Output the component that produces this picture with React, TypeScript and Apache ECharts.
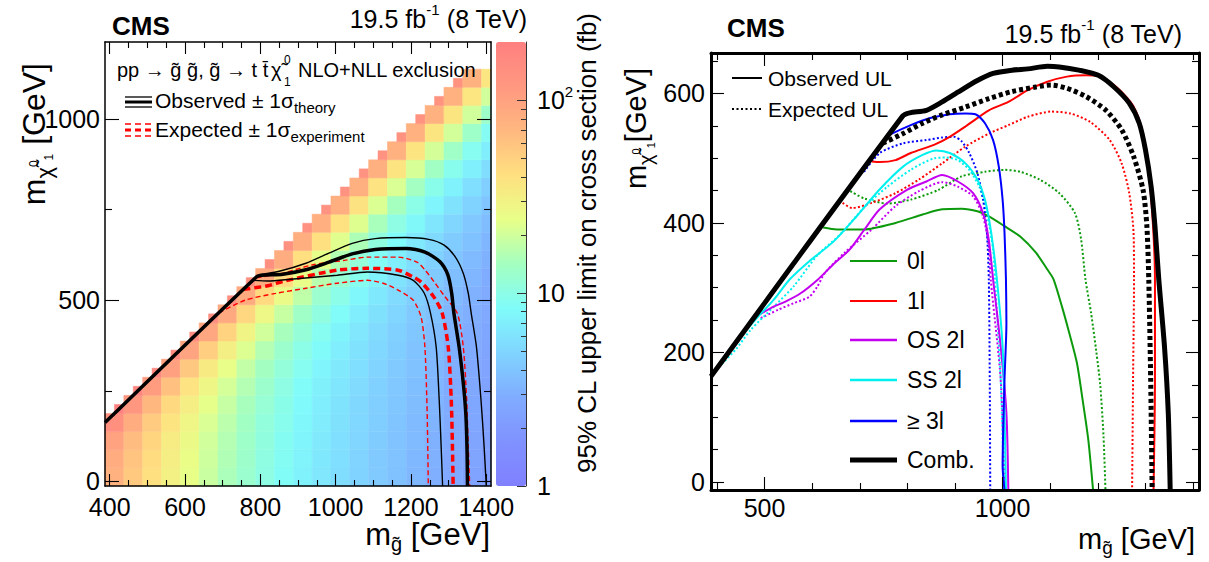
import React, { useEffect, useRef } from "react";
import * as echarts from "echarts";

const FONT = '"Liberation Sans", Arial, Helvetica, sans-serif';

// ---------------- Left panel: cross-section upper limit cells (fb) ----------------
const cellRowY = [12.5, 62.5, 112.5, 162.5, 212.5, 262.5, 312.5, 362.5, 412.5, 462.5, 512.5, 562.5, 612.5, 662.5, 712.5, 762.5, 812.5, 862.5, 912.5, 962.5, 1012.5, 1062.5, 1112.5];
const cellRowStartX = [412.5, 412.5, 412.5, 412.5, 412.5, 462.5, 512.5, 562.5, 612.5, 662.5, 712.5, 762.5, 812.5, 862.5, 912.5, 962.5, 1012.5, 1062.5, 1112.5, 1162.5, 1212.5, 1262.5, 1312.5];
const ulRows: number[][] = [
  [76, 55, 41, 31, 24, 19, 15, 12.4, 10.2, 8.6, 7.3, 6.3, 5.5, 4.8, 4.3, 3.8, 3.4, 3.0, 2.7, 2.4, 2.2],
  [83, 59, 43, 32, 25, 19.5, 15.6, 12.7, 10.4, 8.8, 7.4, 6.4, 5.6, 4.9, 4.3, 3.9, 3.4, 3.1, 2.7, 2.5, 2.2],
  [100, 66, 47, 34, 26, 20, 16, 13, 10.7, 9.0, 7.6, 6.5, 5.7, 5.0, 4.4, 3.9, 3.5, 3.1, 2.8, 2.5, 2.3],
  [140, 83, 54, 38, 28, 21.5, 17, 13.7, 11, 9.3, 7.8, 6.7, 5.8, 5.1, 4.5, 4.0, 3.5, 3.2, 2.8, 2.6, 2.3],
  [195, 123, 71, 45, 32, 23.5, 18.5, 14.6, 11.7, 9.7, 8.1, 6.9, 6.0, 5.2, 4.6, 4.1, 3.6, 3.2, 2.9, 2.6, 2.4],
  [178, 111, 62, 39, 27.5, 20.5, 16, 12.6, 10.3, 8.5, 7.2, 6.2, 5.4, 4.7, 4.2, 3.7, 3.3, 2.9, 2.65, 2.4],
  [166, 102, 56, 34.5, 24.5, 18, 14, 11.2, 9.1, 7.6, 6.5, 5.6, 4.9, 4.3, 3.8, 3.4, 3.0, 2.7, 2.45],
  [157, 96, 51.5, 31.5, 22, 16, 12.6, 10, 8.2, 6.9, 5.9, 5.1, 4.5, 3.9, 3.5, 3.1, 2.8, 2.5],
  [151, 91.5, 48.5, 29, 20, 14.6, 11.4, 9.1, 7.5, 6.3, 5.4, 4.7, 4.1, 3.6, 3.2, 2.9, 2.6],
  [146, 88.5, 46, 27, 18.6, 13.4, 10.5, 8.4, 6.9, 5.8, 5.0, 4.3, 3.8, 3.3, 3.0, 2.7],
  [143, 86, 44, 25.6, 17.4, 12.5, 9.8, 7.8, 6.4, 5.4, 4.6, 4.0, 3.5, 3.1, 2.8],
  [141, 84, 42.6, 24.4, 16.5, 11.8, 9.2, 7.3, 6.0, 5.0, 4.3, 3.7, 3.3, 2.9],
  [139, 82.6, 41.4, 23.5, 15.8, 11.2, 8.7, 6.9, 5.6, 4.7, 4.0, 3.5, 3.1],
  [137, 81.4, 40.5, 22.8, 15.2, 10.7, 8.3, 6.5, 5.3, 4.4, 3.8, 3.3],
  [136, 80.5, 39.8, 22.2, 14.7, 10.3, 7.9, 6.2, 5.0, 4.2, 3.6],
  [135, 79.8, 39.2, 21.7, 14.3, 9.9, 7.6, 5.9, 4.8, 4.0],
  [134, 79.2, 38.7, 21.3, 13.9, 9.6, 7.3, 5.7, 4.6],
  [134, 78.7, 38.3, 20.9, 13.6, 9.3, 7.1, 5.5],
  [133, 78.3, 37.9, 20.6, 13.3, 9.1, 6.9],
  [133, 77.9, 37.6, 20.3, 13.1, 8.9],
  [132, 77.6, 37.3, 20.1, 12.9],
  [132, 77.3, 37.1, 19.9],
  [132, 77.1, 36.9],
];

// Left panel contours [m_gluino, m_LSP]
const obsLeft = [[387.5, 162.5], [790, 565], [805, 569], [860, 572], [921, 584], [982, 605], [1044, 628], [1105, 640], [1187, 643], [1237, 633], [1277, 606], [1298, 570], [1308, 520], [1314, 464], [1328, 370], [1340, 260], [1346, 180], [1349, 80], [1350, -12.5]];
const obsUpLeft = [[795, 570], [850, 580], [921, 602], [982, 630], [1044, 657], [1105, 670], [1187, 673], [1247, 668], [1288, 652], [1318, 619], [1339, 574], [1352, 520], [1360, 464], [1374, 370], [1386, 224], [1394, 100], [1400, -12.5]];
const obsDownLeft = [[780, 555], [820, 553], [881, 558], [1004, 569], [1084, 578], [1166, 569], [1206, 555], [1235, 520], [1252, 464], [1267, 370], [1275, 224], [1280, 100], [1284, -12.5]];
const expLeft = [[755, 530], [820, 540], [860, 552], [1004, 583], [1084, 588], [1166, 583], [1206, 564], [1227, 550], [1260, 510], [1283, 464], [1299, 370], [1307, 224], [1310, 100], [1312, -12.5]];
const expUpLeft = [[790, 562], [860, 575], [940, 598], [1023, 610], [1084, 619], [1166, 619], [1216, 605], [1240, 580], [1262, 550], [1290, 510], [1323, 464], [1339, 370], [1348, 224], [1352, 100], [1356, -12.5]];
const expDownLeft = [[690, 465], [759, 500], [841, 519], [921, 533], [1004, 547], [1084, 555], [1126, 547], [1166, 528], [1206, 500], [1227, 453], [1237, 370], [1243, 188], [1246, -12.5]];

// ---------------- Right panel curves ----------------
const zeroLObs = [[623, 393], [652, 390], [709, 390], [775, 400], [832, 413], [873, 421], [914, 422], [947, 418], [971, 410], [1004, 395], [1037, 379], [1070, 354], [1094, 328], [1107, 313], [1125, 270], [1140, 230], [1156, 184], [1168, 127], [1180, 65], [1190, -12.5]];
const zeroLExp = [[680, 449], [709, 438], [758, 430], [807, 436], [865, 451], [914, 472], [963, 479], [1004, 482], [1037, 479], [1078, 467], [1119, 446], [1152, 415], [1165, 374], [1174, 313], [1186, 260], [1197, 200], [1205, 150], [1212, 70], [1216, -12.5]];
const oneLObs = [[725, 495], [742, 494], [775, 497], [807, 508], [857, 521], [889, 533], [922, 549], [971, 574], [1012, 587], [1053, 605], [1094, 618], [1135, 626], [1176, 628], [1201, 627], [1242, 608], [1275, 580], [1295, 538], [1307, 477], [1316, 395], [1320, 313], [1320, 158], [1317, -12.5]];
const oneLExp = [[664, 431], [684, 423], [725, 431], [775, 446], [824, 467], [873, 492], [922, 518], [971, 538], [1012, 551], [1053, 564], [1102, 572], [1143, 569], [1184, 556], [1225, 528], [1250, 492], [1266, 446], [1275, 385], [1276, 313], [1274, 158], [1272, -12.5]];
const os2lObs = [[488, 258], [520, 271], [545, 279], [575, 291], [611, 312], [643, 335], [680, 360], [710, 390], [742, 421], [799, 451], [840, 464], [873, 474], [906, 464], [938, 446], [959, 415], [971, 374], [980, 313], [996, 209], [1008, 106], [1012, -12.5]];
const os2lExp = [[492, 253], [529, 266], [561, 276], [594, 286], [611, 302], [627, 323], [668, 354], [725, 390], [775, 426], [824, 449], [873, 463], [906, 456], [938, 441], [959, 410], [971, 364], [975, 313], [996, 158], [1004, -12.5]];
const ss2lObs = [[406, 180], [440, 215], [480, 250], [520, 282], [553, 313], [594, 341], [643, 370], [693, 410], [742, 452], [791, 487], [832, 505], [861, 512], [889, 508], [922, 492], [947, 467], [963, 436], [976, 385], [988, 313], [1000, 209], [1004, 106], [1007, -12.5]];
const ss2lExp = [[398, 173], [440, 205], [471, 235], [520, 271], [561, 302], [611, 350], [660, 383], [709, 424], [758, 456], [807, 482], [857, 500], [881, 501], [906, 497], [930, 482], [951, 456], [967, 415], [980, 359], [984, 313], [996, 158], [1003, -12.5]];
const threeLObs = [[762, 536], [807, 551], [848, 562], [889, 568], [922, 569], [943, 568], [963, 554], [980, 528], [992, 487], [1000, 436], [1004, 385], [1007, 313], [1008, 245], [1004, 158], [1000, 24], [1004, -12.5]];
const threeLExp = [[709, 479], [742, 508], [791, 523], [840, 528], [873, 532], [898, 533], [914, 526], [930, 508], [947, 477], [959, 436], [967, 385], [971, 313], [973, 158], [974, -12.5]];
const combObs = [[387.5, 163], [790, 565], [805, 570], [840, 574], [873, 587], [906, 602], [947, 620], [980, 631], [1020, 636], [1053, 638], [1094, 642], [1119, 641], [1160, 636], [1201, 628], [1234, 610], [1266, 585], [1287, 554], [1300, 513], [1312, 456], [1320, 395], [1328, 313], [1340, 209], [1348, 106], [1352, -12.5]];
const combExp = [[748, 523], [791, 538], [832, 554], [873, 567], [922, 579], [971, 592], [1020, 603], [1070, 610], [1102, 613], [1135, 608], [1176, 595], [1217, 574], [1250, 544], [1275, 503], [1295, 451], [1303, 395], [1307, 313], [1311, 158], [1314, -12.5]];

// ticks
const leftXMajor = [400, 600, 800, 1000, 1200, 1400];
const leftXMinor = [450, 500, 550, 650, 700, 750, 850, 900, 950, 1050, 1100, 1150, 1250, 1300, 1350];
const leftYMajor = [0, 500, 1000];
const leftYMinor = [250, 750];
const rightXMajor = [500, 1000];
const rightXMinor = [400, 600, 700, 800, 900, 1100, 1200, 1300, 1400];
const rightYMajor = [0, 200, 400, 600];
const rightYMinor = [50, 100, 150, 250, 300, 350, 450, 500, 550, 650];
const cbarMajor = [1, 10, 100];
const cbarMinor = [2, 3, 4, 5, 6, 7, 8, 9, 20, 30, 40, 50, 60, 70, 80, 90];
const cbarMax = 200;

const PALETTE = ["#8080ff", "#8092ff", "#80acff", "#80d4ff", "#80fcfa", "#a4ffc0", "#e8ff88", "#ffe080", "#ffb880", "#ff9880", "#ff8080"];

const L_X = [387.5, 1412.5];
const L_Y = [-12.5, 1212.5];
const R_X = [387.5, 1412.5];
const R_Y = [-12.5, 662.5];

function axesFor(dim: "x" | "y", gridIndex: number, ext: number[], major: number[], minor: number[], o: any) {
  const posA = dim === "x" ? "bottom" : "left";
  const posB = dim === "x" ? "top" : "right";
  const base = { gridIndex, type: "value", min: ext[0], max: ext[1], splitLine: { show: false }, z: 10 };
  const line = { show: true, onZero: false, lineStyle: { color: "#000", width: o.lineWidth } };
  const noLine = { show: false, onZero: false };
  const ts = { color: "#000", width: 1.1 };
  const label: any = { show: true, customValues: major, margin: o.margin, fontSize: 25, fontFamily: FONT, color: "#000", formatter: (v: number) => String(Math.round(v)) };
  return [
    { ...base, position: posA, axisLine: line, axisTick: { show: true, inside: true, length: o.majorLen, customValues: major, lineStyle: ts }, axisLabel: label },
    { ...base, position: posA, axisLine: noLine, axisTick: { show: true, inside: true, length: o.minorLen, customValues: minor, lineStyle: ts }, axisLabel: { show: false } },
    { ...base, position: posB, axisLine: line, axisTick: { show: true, inside: true, length: o.majorLen, customValues: major, lineStyle: ts }, axisLabel: { show: false } },
    { ...base, position: posB, axisLine: noLine, axisTick: { show: true, inside: true, length: o.minorLen, customValues: minor, lineStyle: ts }, axisLabel: { show: false } },
  ];
}

function txt(x: number, y: number, text: string, fontSize: number, extra: any = {}) {
  const { rotation, ...st } = extra;
  return {
    type: "text", x, y, rotation: rotation || 0, z: 100,
    style: { text, fontSize, fontFamily: FONT, fill: "#000", align: "left", verticalAlign: "middle", ...st },
  };
}
function seg(x1: number, y1: number, x2: number, y2: number, stroke: string, lineWidth: number, lineDash?: number[]) {
  return { type: "line", z: 100, shape: { x1, y1, x2, y2 }, style: { stroke, lineWidth, lineDash: lineDash || null } };
}

function lineSeries(data: number[][], color: string, width: number, xi: number, yi: number, dash?: any) {
  return {
    type: "line", xAxisIndex: xi, yAxisIndex: yi, data, showSymbol: false, symbol: "none", smooth: 0.25,
    lineStyle: { color, width, type: dash || "solid" }, z: 5, silent: true,
  };
}

export default function App() {
  const ref = useRef<HTMLDivElement>(null);
  useEffect(() => {
    if (!ref.current) return;
    const chart = echarts.init(ref.current, null, { renderer: "svg" });

    const heatData: number[][] = [];
    ulRows.forEach((row, i) => {
      row.forEach((v, k) => {
        heatData.push([cellRowStartX[i] + 50 * k, cellRowY[i], Math.log10(v), v]);
      });
    });

    const green = "#0c9a0c", red = "#ff0000", violet = "#c400f0", cyan = "#00f0f0", blue = "#0000ff";
    const dot = [2, 2.2];
    const RX = 8, RY = 6; // right grid main axis indices

    const option: any = {
      animation: false,
      backgroundColor: "#fff",
      grid: [
        { left: 105, top: 42, width: 386, height: 444 },
        { left: 496, top: 42, width: 30, height: 444 },
        { left: 711, top: 53, width: 488, height: 437 },
      ],
      xAxis: [
        ...axesFor("x", 0, L_X, leftXMajor, leftXMinor, { lineWidth: 1.5, majorLen: 12, minorLen: 6, margin: 8 }),
        { gridIndex: 1, type: "value", min: 0, max: 1, show: false },
        ...axesFor("x", 2, R_X, rightXMajor, rightXMinor, { lineWidth: 3, majorLen: 13, minorLen: 7, margin: 5 }),
      ],
      yAxis: [
        ...axesFor("y", 0, L_Y, leftYMajor, leftYMinor, { lineWidth: 1.5, majorLen: 14, minorLen: 7, margin: 5 }),
        {
          gridIndex: 1, type: "value", min: 0, max: Math.log10(cbarMax), position: "right", z: 10,
          splitLine: { show: false },
          axisLine: { show: true, onZero: false, lineStyle: { color: "#333", width: 1 } },
          axisTick: { show: true, inside: true, length: 9, customValues: cbarMajor.map((v) => Math.log10(v)), lineStyle: { color: "#333", width: 1 } },
          axisLabel: {
            show: true, customValues: cbarMajor.map((v) => Math.log10(v)), margin: 11, fontSize: 25, fontFamily: FONT, color: "#000",
            formatter: (v: number) => {
              const r = Math.round(v);
              if (r === 0) return "1";
              if (r === 1) return "10";
              return "{b|10}{s|" + r + "}";
            },
            rich: {
              b: { fontSize: 25, fontFamily: FONT, color: "#000", lineHeight: 32 },
              s: { fontSize: 15, fontFamily: FONT, color: "#000", lineHeight: 12, verticalAlign: "top" },
            },
          },
        },
        {
          gridIndex: 1, type: "value", min: 0, max: Math.log10(cbarMax), position: "right", z: 10,
          splitLine: { show: false }, axisLine: { show: false, onZero: false },
          axisTick: { show: true, inside: true, length: 5, customValues: cbarMinor.map((v) => Math.log10(v)), lineStyle: { color: "#333", width: 1 } },
          axisLabel: { show: false },
        },
        ...axesFor("y", 2, R_Y, rightYMajor, rightYMinor, { lineWidth: 3, majorLen: 13, minorLen: 7, margin: 6 }),
      ],
      visualMap: {
        type: "continuous", seriesIndex: 0, dimension: 2, min: 0, max: Math.log10(cbarMax),
        inRange: { color: PALETTE }, left: 496, top: 42, itemWidth: 30, itemHeight: 444, padding: 0,
        calculable: false, hoverLink: false, realtime: false, z: 4,
      },
      series: [
        {
          type: "custom", xAxisIndex: 0, yAxisIndex: 0, data: heatData, encode: { x: 0, y: 1 }, silent: true, z: 1,
          renderItem: (params: any, api: any) => {
            const x = api.value(0), y = api.value(1);
            let x0 = x - 25, x1 = x + 25, y0 = y - 25, y1 = y + 25;
            if (x - y < 225) { x0 = x; y1 = y; }
            x0 = Math.max(x0, L_X[0]); x1 = Math.min(x1, L_X[1]);
            y0 = Math.max(y0, L_Y[0]); y1 = Math.min(y1, L_Y[1]);
            const a = api.coord([x0, y1]);
            const b = api.coord([x1, y0]);
            const c = api.visual("color");
            return { type: "rect", shape: { x: a[0], y: a[1], width: b[0] - a[0], height: b[1] - a[1] }, style: { fill: c, stroke: c, lineWidth: 0.5 } };
          },
        },
        lineSeries(expDownLeft, red, 1.4, 0, 0, [5, 3]),
        lineSeries(expUpLeft, red, 1.4, 0, 0, [5, 3]),
        lineSeries(expLeft, red, 3.5, 0, 0, [7, 4]),
        lineSeries(obsDownLeft, "#000", 1.4, 0, 0),
        lineSeries(obsUpLeft, "#000", 1.4, 0, 0),
        lineSeries(obsLeft, "#000", 3.5, 0, 0),

        lineSeries(zeroLExp, green, 2, RX, RY, dot),
        lineSeries(oneLExp, red, 2, RX, RY, dot),
        lineSeries(os2lExp, violet, 2, RX, RY, dot),
        lineSeries(ss2lExp, cyan, 2, RX, RY, dot),
        lineSeries(threeLExp, blue, 2, RX, RY, dot),
        lineSeries(zeroLObs, green, 2, RX, RY),
        lineSeries(oneLObs, red, 2, RX, RY),
        lineSeries(os2lObs, violet, 2, RX, RY),
        lineSeries(ss2lObs, cyan, 2, RX, RY),
        lineSeries(threeLObs, blue, 2, RX, RY),
        lineSeries(combExp, "#000", 5, RX, RY, [4, 3]),
        lineSeries(combObs, "#000", 5, RX, RY),
      ],
      graphic: [
        // left header
        txt(112, 26, "CMS", 26, { fontWeight: "bold" }),
        txt(527, 19, "{a|19.5 fb}{s|-1}{a| (8 TeV)}", 25, {
          align: "right",
          rich: { a: { fontSize: 25, fontFamily: FONT, lineHeight: 34 }, s: { fontSize: 15, fontFamily: FONT, lineHeight: 12, verticalAlign: "top" } },
        }),
        // left legend
        txt(117, 70, "pp \u2192 g\u0303 g\u0303, g\u0303 \u2192 t t\u0304", 20),
        txt(271, 70, "\u03c7\u0303", 20),
        txt(284, 60, "0", 12),
        txt(284, 82, "1", 12),
        txt(298, 70, "NLO+NLL exclusion", 20),
        seg(125, 97, 152, 97, "#000", 1.3),
        seg(125, 102, 152, 102, "#000", 3),
        seg(125, 107, 152, 107, "#000", 1.3),
        txt(155, 100.7, "{a|Observed \u00b1 1\u03c3}{b|theory}", 21, {
          rich: { a: { fontSize: 21, fontFamily: FONT, lineHeight: 28 }, b: { fontSize: 15, fontFamily: FONT, lineHeight: 9, verticalAlign: "bottom" } },
        }),
        seg(125, 124, 152, 124, red, 1.3, [6, 4]),
        seg(125, 130, 152, 130, red, 3, [6, 4]),
        seg(125, 136, 152, 136, red, 1.3, [6, 4]),
        txt(155, 129.7, "{a|Expected \u00b1 1\u03c3}{b|experiment}", 21, {
          rich: { a: { fontSize: 21, fontFamily: FONT, lineHeight: 28 }, b: { fontSize: 15, fontFamily: FONT, lineHeight: 9, verticalAlign: "bottom" } },
        }),
        // left axis titles
        txt(490, 534.5, "{a|m}{b|g\u0303}{a| [GeV]}", 31, {
          align: "right",
          rich: { a: { fontSize: 31, fontFamily: FONT, lineHeight: 38 }, b: { fontSize: 20, fontFamily: FONT, lineHeight: 18, verticalAlign: "bottom" } },
        }),
        txt(34, 63, "{a|m}{b|\u03c7\u0303}{c|0}{d|1}{a| [GeV]}", 32, {
          align: "right", rotation: Math.PI / 2,
          rich: {
            a: { fontSize: 32, fontFamily: FONT, lineHeight: 42 },
            b: { fontSize: 22, fontFamily: FONT, lineHeight: 18, verticalAlign: "bottom" },
            c: { fontSize: 12, fontFamily: FONT, lineHeight: 12 },
            d: { fontSize: 12, fontFamily: FONT, lineHeight: 8, verticalAlign: "bottom" },
          },
        }),
        txt(587, 243, "95% CL upper limit on cross section (fb)", 26, { align: "center", rotation: Math.PI / 2 }),

        // right header
        txt(727, 28, "CMS", 26, { fontWeight: "bold" }),
        txt(1182, 34, "{a|19.5 fb}{s|-1}{a| (8 TeV)}", 25, {
          align: "right",
          rich: { a: { fontSize: 25, fontFamily: FONT, lineHeight: 34 }, s: { fontSize: 15, fontFamily: FONT, lineHeight: 12, verticalAlign: "top" } },
        }),
        // right top legend
        seg(732, 78, 762, 78, "#000", 2),
        txt(768, 78.7, "Observed UL", 21),
        seg(732, 109, 762, 109, "#000", 2, [2, 2.5]),
        txt(768, 109.7, "Expected UL", 21),
        // right bottom legend
        seg(850, 261, 897, 261, green, 2.2),
        txt(907, 261, "0l", 23),
        seg(850, 301, 897, 301, red, 2.2),
        txt(907, 301, "1l", 23),
        seg(850, 340, 897, 340, violet, 2.5),
        txt(907, 340, "OS 2l", 23),
        seg(850, 380, 897, 380, cyan, 2.5),
        txt(907, 380, "SS 2l", 23),
        seg(850, 421, 897, 421, blue, 2.5),
        txt(907, 421, "\u2265 3l", 23),
        seg(850, 460, 897, 460, "#000", 5),
        txt(907, 460, "Comb.", 23),
        // right axis titles
        txt(1195, 538.5, "{a|m}{b|g\u0303}{a| [GeV]}", 29, {
          align: "right",
          rich: { a: { fontSize: 29, fontFamily: FONT, lineHeight: 36 }, b: { fontSize: 19, fontFamily: FONT, lineHeight: 17, verticalAlign: "bottom" } },
        }),
        txt(636, 68, "{a|m}{b|\u03c7\u0303}{c|0}{d|1}{a|[GeV]}", 29, {
          align: "right", rotation: Math.PI / 2,
          rich: {
            a: { fontSize: 29, fontFamily: FONT, lineHeight: 40 },
            b: { fontSize: 20, fontFamily: FONT, lineHeight: 17, verticalAlign: "bottom" },
            c: { fontSize: 11, fontFamily: FONT, lineHeight: 12 },
            d: { fontSize: 11, fontFamily: FONT, lineHeight: 8, verticalAlign: "bottom" },
          },
        }),
      ],
    };
    chart.setOption(option);
    return () => chart.dispose();
  }, []);
  return <div ref={ref} style={{ position: "fixed", left: 0, top: 0, width: 1209, height: 562, background: "#fff" }} />;
}
